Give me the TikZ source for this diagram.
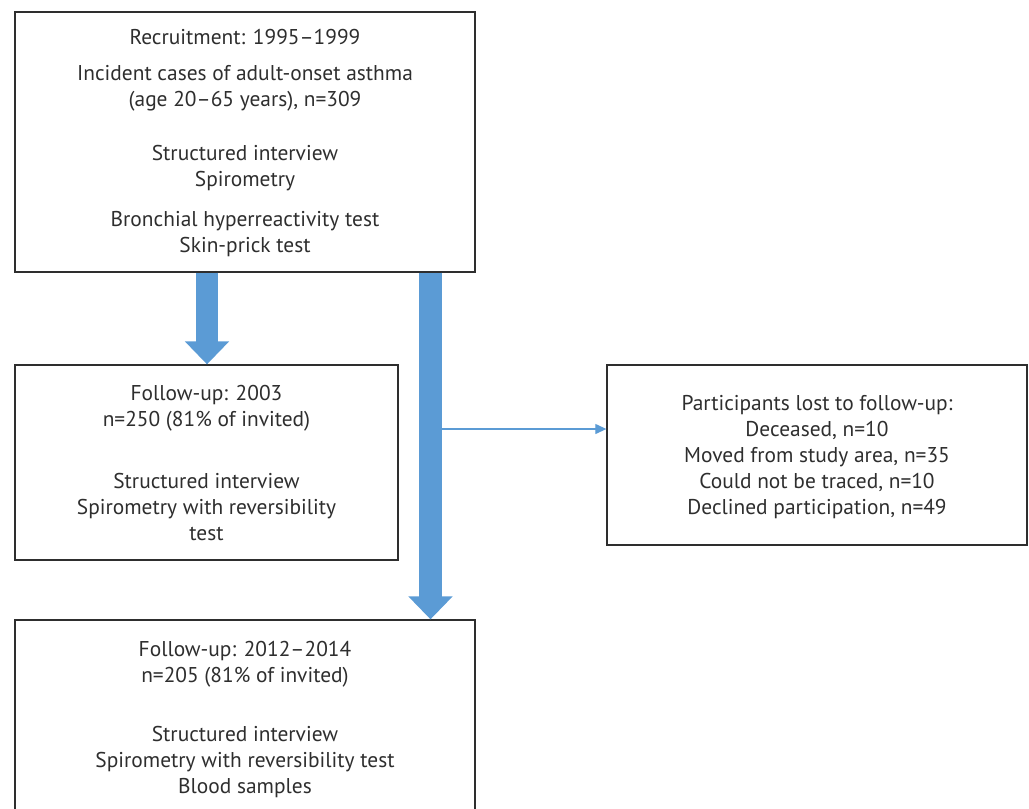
\documentclass[tikz,border=0pt]{standalone}
\usepackage{fontspec}
\setmainfont{PT Sans}
\usetikzlibrary{arrows.meta}
\definecolor{arrowblue}{HTML}{5B9BD5}
\definecolor{ink}{HTML}{2E2E2E}
\begin{document}
\begin{tikzpicture}[x=1pt,y=-1pt,
  box/.style={draw=ink, line width=1.3pt, inner sep=0pt, rectangle},
  txt/.style={text=ink, align=center, font=\fontsize{21.4}{26}\selectfont, inner sep=0pt, anchor=north},
  bigarrow/.style={draw=arrowblue, line width=22.5pt, -{Triangle[length=23pt,width=43pt]}},
  thinarrow/.style={draw=arrowblue, line width=1.2pt, -{Triangle[length=11pt,width=10pt]}}]
\useasboundingbox (0,0) rectangle (1029,809);
\clip (0,0) rectangle (1029,809);
% boxes
\node[box, minimum width=460pt, minimum height=260pt] (b1) at (245,142) {};
\node[box, minimum width=383pt, minimum height=195pt] (b2) at (206.5,462.5) {};
\node[box, minimum width=460pt, minimum height=210pt] (b3) at (245,725) {};
\node[box, minimum width=420pt, minimum height=180pt] (b4) at (817,455) {};
% texts
\node[txt] (t1) at (245,29.5) {Recruitment: 1995–1999\\[10pt]
Incident cases of adult-onset asthma\\
(age 20–65 years), n=309\\[28pt]
Structured interview\\
Spirometry\\[14pt]
Bronchial hyperreactivity test\\
Skin-prick test};
\node[txt] (t2) at (206.5,385.5) {Follow-up: 2003\\
n=250 (81\% of invited)\\[36pt]
Structured interview\\
Spirometry with reversibility\\
test};
\node[txt] (t4) at (817,395.5) {Participants lost to follow-up:\\
Deceased, n=10\\
Moved from study area, n=35\\
Could not be traced, n=10\\
Declined participation, n=49};
\node[txt] (t3) at (245,641.5) {Follow-up: 2012–2014\\
n=205 (81\% of invited)\\[33pt]
Structured interview\\
Spirometry with reversibility test\\
Blood samples};
% arrows
\coordinate (la) at (207,0);
\coordinate (ra) at (430.5,0);
\coordinate (ts) at (441.5,429);
\draw[bigarrow] (la |- b1.south) -- (la |- b2.north);
\draw[bigarrow] (ra |- b1.south) -- (ra |- b3.north);
\draw[thinarrow] (ts) -- (ts -| b4.west);
\end{tikzpicture}
\end{document}
